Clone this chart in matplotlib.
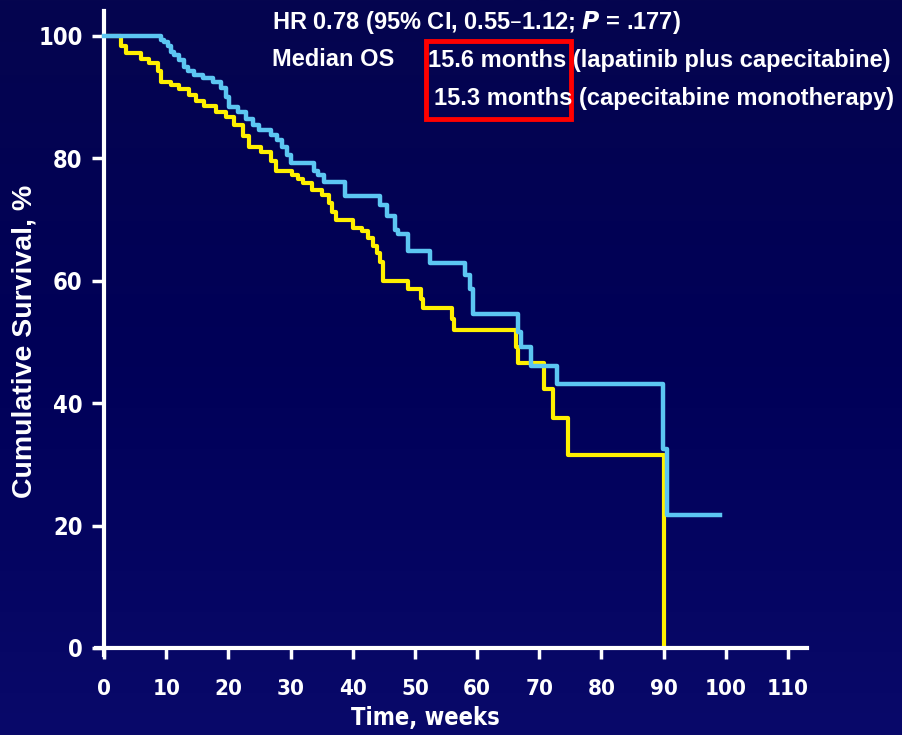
import matplotlib as mpl
mpl.use("Agg")
import matplotlib.pyplot as plt
import numpy as np
from matplotlib.colors import LinearSegmentedColormap
from matplotlib.patches import Rectangle

# Kaplan-Meier steps (weeks, % surviving)
lap_weeks = [0, 9.2, 9.7, 10.3, 10.8, 11.3, 12.1, 12.9, 13.5, 14.5, 15.9, 17.5, 18.8,
             19.6, 20.1, 21.5, 22.8, 23.9, 24.9, 26.8, 27.8, 28.6, 29.4, 30.1, 33.7,
             34.4, 35.4, 38.8, 44.4, 45.5, 46.8, 47.3, 48.9, 52.5, 58.1, 58.9, 59.4,
             66.6, 67.1, 68.7, 72.8, 89.9, 90.6, 99.1]
lap_surv = [100, 99.4, 99.0, 98.3, 97.4, 96.9, 96.1, 95.0, 94.2, 93.6, 93.1, 92.5, 91.5,
            90.1, 88.4, 87.6, 86.5, 85.5, 84.6, 83.8, 83.0, 81.9, 80.6, 79.2, 78.0,
            77.2, 76.1, 73.9, 72.4, 70.5, 68.3, 67.6, 64.8, 62.9, 61.0, 58.6, 54.6,
            51.7, 49.2, 46.1, 43.2, 32.5, 21.7, 21.7]

cap_weeks = [0, 2.8, 3.5, 6.0, 7.3, 8.7, 9.2, 10.8, 12.1, 13.7, 14.8, 16.1, 18.0,
             19.6, 20.9, 22.3, 23.3, 25.2, 26.9, 27.7, 30.2, 31.2, 32.0, 33.4, 35.0,
             36.2, 36.6, 37.3, 40.1, 41.5, 42.5, 43.2, 43.9, 44.4, 44.8, 48.9, 50.9,
             51.3, 55.9, 56.3, 66.3, 66.6, 70.7, 72.2, 74.7, 90.0]
cap_surv = [100, 98.4, 97.2, 96.3, 95.5, 94.2, 92.5, 92.0, 91.4, 90.4, 89.3, 88.5, 87.6,
            86.8, 85.5, 83.6, 81.9, 81.1, 79.5, 77.9, 77.3, 76.7, 75.9, 74.8, 74.0,
            72.7, 71.3, 69.9, 68.7, 68.1, 67.0, 65.6, 64.5, 63.1, 59.9, 58.6, 57.1,
            55.5, 53.7, 51.9, 49.2, 46.6, 42.3, 37.5, 31.5, 0]

x_ticks = [0, 10, 20, 30, 40, 50, 60, 70, 80, 90, 100, 110]
y_ticks = [0, 20, 40, 60, 80, 100]

plt.rcParams['font.family'] = ['Liberation Sans', 'DejaVu Sans']

fig = plt.figure(figsize=(9.03, 7.35), dpi=100)

# background gradient
bg = fig.add_axes([0, 0, 1, 1], zorder=-10)
bg.axis('off')
cmap = LinearSegmentedColormap.from_list('bgc', ['#05054f', '#000058', '#09096a'])
grad = np.linspace(0, 1, 256).reshape(-1, 1)
bg.imshow(grad, aspect='auto', cmap=cmap, extent=[0, 1, 0, 1], origin='upper')

ax = fig.add_axes([0.1049, 0.1059, 0.7918, 0.8785])
ax.patch.set_alpha(0)
ax.set_xlim(-1.5, 113.5)
ax.set_ylim(-1.5, 104)

ax.step(lap_weeks, lap_surv, where='post', color='#5cc6f2', lw=3.2, zorder=3)
ax.step(cap_weeks, cap_surv, where='post', color='#fff000', lw=3.0, zorder=2)

for s in ['top', 'right']:
    ax.spines[s].set_visible(False)
ax.spines['left'].set_position(('data', 0))
ax.spines['bottom'].set_position(('data', 0))
ax.spines['left'].set_bounds(-1.2, 104)
ax.spines['bottom'].set_bounds(-1.3, 113)
for s in ['left', 'bottom']:
    ax.spines[s].set_color('white')
    ax.spines[s].set_linewidth(3)

ax.set_xticks(x_ticks)
ax.set_yticks(y_ticks)
ax.tick_params(axis='x', colors='white', length=8, width=2.5, direction='out', pad=14)
ax.tick_params(axis='y', colors='white', length=8.5, width=2.5, direction='out', pad=7)
for lab in ax.get_xticklabels():
    lab.set_family('DejaVu Sans')
    lab.set_stretch('condensed')
    lab.set_fontweight('bold')
    lab.set_fontsize(16)
for lab in ax.get_yticklabels():
    lab.set_family('DejaVu Sans')
    lab.set_stretch('condensed')
    lab.set_fontweight('bold')
    lab.set_fontsize(17)

fig.text(425 / 903, 1 - 718 / 735, 'Time, weeks', color='white', fontsize=17,
         fontweight='bold', family='DejaVu Sans', stretch='condensed',
         ha='center', va='center')
fig.text(25 / 903, 1 - 341 / 735, 'Cumulative Survival, %', color='white',
         fontsize=20.5, fontweight='bold', rotation=90, ha='center', va='center')

hdr = dict(va='center', ha='left', color='white', fontsize=17, fontweight='bold')
fig.text(272 / 903, 1 - 22 / 735, 'HR 0.78 (95% CI, 0.55\u20131.12; $\\mathbfit{P}$ = .177)', **hdr)
fig.text(272 / 903, 1 - 60 / 735, 'Median OS', **hdr)
fig.text(428 / 903, 1 - 60 / 735, '15.6 months (lapatinib plus capecitabine)', **hdr)
fig.text(434 / 903, 1 - 98 / 735, '15.3 months (capecitabine monotherapy)', **hdr)

fig.patches.append(Rectangle((426 / 903, 1 - 119 / 735), 145 / 903, 78 / 735,
                             transform=fig.transFigure, fill=False,
                             edgecolor='#ff0000', lw=3.5))

fig.savefig('out.png', dpi=100)
